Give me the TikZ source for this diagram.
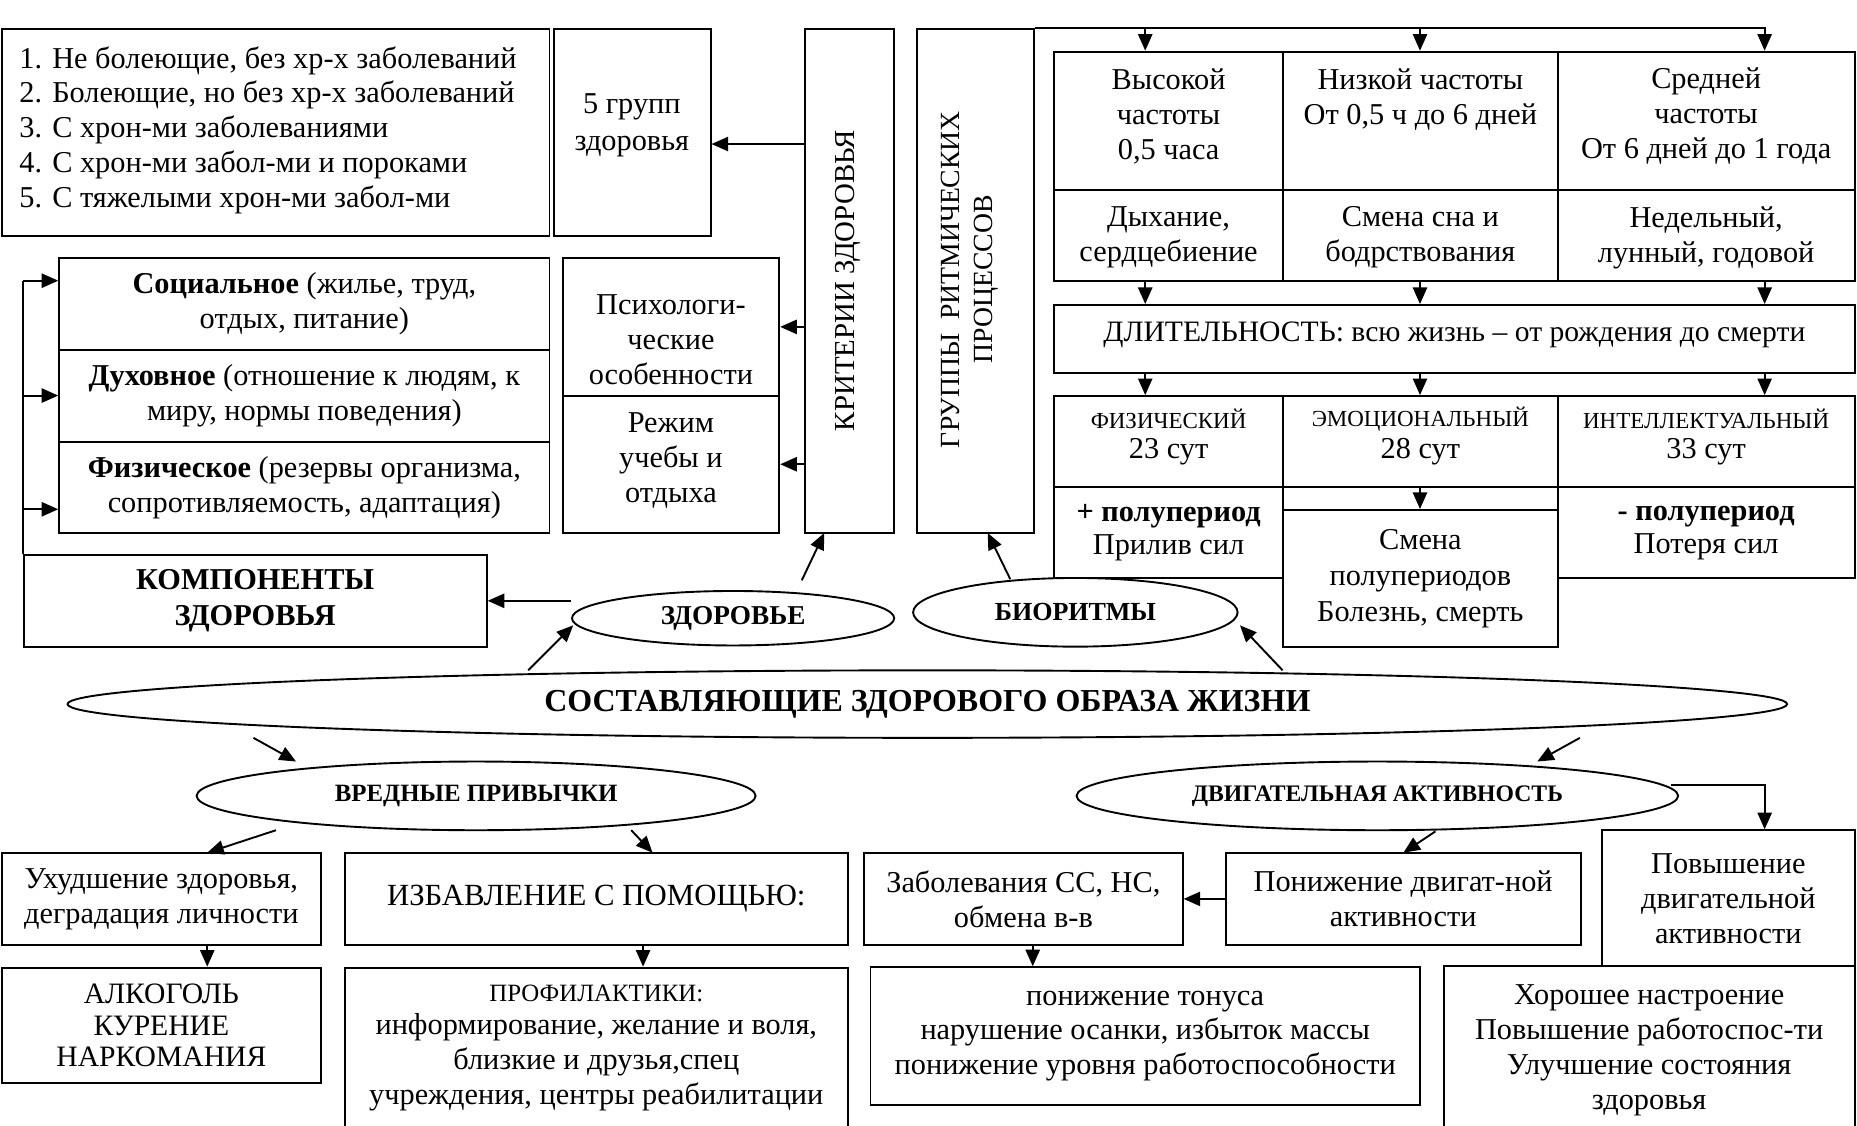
\documentclass[tikz,border=0pt]{standalone}
\usepackage{fontspec}
\setmainfont{Liberation Serif}
\usetikzlibrary{shapes.geometric,arrows.meta}
\newcommand\fm{\fontsize{12.8}{14.75}\selectfont}
\newcommand\fsm{\fontsize{9.7}{11}\selectfont}
\newcommand\BX[7][]{\node[box,minimum width={(#5-#3)*0.5pt},minimum height={(#6-#4)*0.5pt},#1] (#2) at ({(#3+#5)/2},{(#4+#6)/2}) {#7};}
\newcommand\EL[7][]{\node[ell,minimum width={#5*1pt},minimum height={#6*1pt},#1] (#2) at (#3,#4) {#7};}
\begin{document}
\begin{tikzpicture}[x=0.5pt,y=-0.5pt,
 box/.style={draw,line width=0.8pt,inner sep=0pt,align=center,font=\fm},
 txt/.style={inner sep=0pt,align=center,font=\fm},
 ell/.style={draw,ellipse,line width=0.8pt,inner sep=0pt,align=center},
 arr/.style={line width=0.8pt,-{Triangle[length=7pt,width=6pt]}},
 ln/.style={line width=0.8pt}]
\useasboundingbox (0,0) rectangle (1568,950);
\clip (0,0) rectangle (1568,950);

% column coordinates
\coordinate (ca) at (967,0);
\coordinate (cb) at (1199,0);
\coordinate (cc) at (1490,0);

% ---------- top left
\BX{lst}{1.5}{24.8}{464}{199}{}
\node[txt,align=left,anchor=west] (lstt) at (16,110) {1. Не болеющие, без хр-х заболеваний\\2. Болеющие, но без хр-х заболеваний\\3. С хрон-ми заболеваниями\\4. С хрон-ми забол-ми и пороками\\5. С тяжелыми хрон-ми забол-ми};
\BX{grp}{467.5}{24.8}{600}{199}{}
\node[txt,font=\fontsize{12.8}{15.5}\selectfont] (grpt) at (533.5,105.5) {5 групп\\здоровья};

\BX{krit}{680}{24.8}{755}{450}{}
\node[txt,rotate=90,font=\fontsize{12.2}{14}\selectfont] (kritt) at (716,237) {КРИТЕРИИ ЗДОРОВЬЯ};
\BX{grup}{774}{24.8}{873}{450}{}
\node[txt,rotate=90,font=\fontsize{11.7}{14}\selectfont] (grupt) at (819,236) {ГРУППЫ\ \ РИТМИЧЕСКИХ\\ПРОЦЕССОВ};

% ---------- frequency table
\BX{f11}{890}{43.6}{1083.4}{160.4}{}
\BX{f12}{1083.4}{43.6}{1315.2}{160.4}{}
\BX{f13}{1315.2}{43.6}{1566}{160.4}{}
\BX{f21}{890}{160.4}{1083.4}{237.3}{}
\BX{f22}{1083.4}{160.4}{1315.2}{237.3}{}
\BX{f23}{1315.2}{160.4}{1566}{237.3}{}
\node[txt] (f11t) at (986.7,98) {Высокой\\частоты\\0,5 часа};
\node[txt] (f12t) at (1199.3,83.7) {Низкой частоты\\От 0,5 ч до 6 дней};
\node[txt] (f13t) at (1440.6,98) {Средней\\частоты\\От 6 дней до 1 года};
\node[txt] (f21t) at (986.7,200.5) {Дыхание,\\сердцебиение};
\node[txt] (f22t) at (1199.3,200.5) {Смена сна и\\бодрствования};
\node[txt] (f23t) at (1440.6,200.5) {Недельный,\\лунный, годовой};

\draw[arr] (grup.north east) -- (cc |- grup.north) -- (cc |- f13.north);
\draw[arr] (ca |- grup.north) -- (ca |- f11.north);
\draw[arr] (cb |- grup.north) -- (cb |- f12.north);

\BX{dl}{890}{257.5}{1566}{314.6}{}
\node[txt,font=\fontsize{12.5}{14}\selectfont] (dlt) at (1228,283) {ДЛИТЕЛЬНОСТЬ: всю жизнь – от рождения до смерти};
\foreach \c/\t in {ca/f21,cb/f22,cc/f23} \draw[arr] (\c |- \t.south) -- (\c |- dl.north);

% ---------- biorhythm table
\BX{b11}{890}{334.4}{1083.4}{411.5}{}
\BX{b12}{1083.4}{334.4}{1315.2}{411.5}{}
\BX{b13}{1315.2}{334.4}{1566}{411.5}{}
\foreach \c/\t in {ca/b11,cb/b12,cc/b13} \draw[arr] (\c |- dl.south) -- (\c |- \t.north);
\node[txt,font=\fsm] (b11a) at (986.7,354) {ФИЗИЧЕСКИЙ};
\node[txt] (b11b) at (986.7,381.4) {23 сут};
\node[txt,font=\fsm] (b12a) at (1199.3,354) {ЭМОЦИОНАЛЬНЫЙ};
\node[txt] (b12b) at (1199.3,381.4) {28 сут};
\node[txt,font=\fsm] (b13a) at (1440.6,354) {ИНТЕЛЛЕКТУАЛЬНЫЙ};
\node[txt] (b13b) at (1440.6,381.4) {33 сут};
\BX[font=\fontsize{12.8}{14}\selectfont]{b21}{890}{411.5}{1083.4}{488.3}{\textbf{+ полупериод}\\Прилив сил}
\BX[font=\fontsize{12.8}{14}\selectfont]{b23}{1315.2}{411.5}{1566}{488.3}{\textbf{- полупериод}\\Потеря сил}
\BX[font=\fontsize{12.8}{15.2}\selectfont]{sm}{1083.4}{430.6}{1315.2}{546}{Смена\\полупериодов\\Болезнь, смерть}
\draw[arr] (cb |- b12.south) -- (cb |- sm.north);

% ---------- components
\BX{c1}{50}{218}{464}{295.5}{\textbf{Социальное} (жилье, труд,\\отдых, питание)}
\BX{c2}{50}{295.5}{464}{373}{\textbf{Духовное} (отношение к людям, к\\миру, нормы поведения)}
\BX{c3}{50}{373}{464}{450}{\textbf{Физическое} (резервы организма,\\сопротивляемость, адаптация)}
\BX{p1}{475}{218}{658}{334}{}
\BX{p2}{475}{334}{658}{450}{}
\node[txt] (p1t) at (566.5,287) {Психологи-\\ческие\\особенности};
\node[txt] (p2t) at (566.5,389) {Режим\\учебы и\\отдыха};
\BX[font=\fontsize{12.8}{15}\selectfont\bfseries]{komp}{20}{468.6}{411}{546}{КОМПОНЕНТЫ\\ЗДОРОВЬЯ}

\coordinate (l1) at (0,237);
\coordinate (l2) at (0,334);
\coordinate (l3) at (0,430);
\draw[ln] (komp.north west) -- (komp.west |- l1);
\foreach \l/\t in {l1/c1,l2/c2,l3/c3} \draw[arr] (komp.west |- \l) -- (\t.west |- \l);

\coordinate (k1) at (0,121.6);
\draw[arr] (krit.west |- k1) -- (grp.east |- k1);
\draw[arr] (krit.west |- p1.east) -- (p1.east);
\draw[arr] (krit.west |- p2.east) -- (p2.east);

% ---------- ellipses
\EL{zd}{619}{522}{136}{23}{\fontsize{11.5}{13}\selectfont\bfseries ЗДОРОВЬЕ}
\EL{bio}{908}{517}{137}{29}{\fontsize{11}{13}\selectfont\bfseries БИОРИТМЫ}
\EL{sost}{783}{594.5}{726}{28.5}{\fontsize{13.5}{15}\selectfont\bfseries СОСТАВЛЯЮЩИЕ ЗДОРОВОГО ОБРАЗА ЖИЗНИ}
\EL{vred}{402}{672}{236}{29}{\fontsize{10.5}{12}\selectfont\bfseries ВРЕДНЫЕ ПРИВЫЧКИ}
\EL{dvig}{1163}{672}{254}{29}{\fontsize{10}{12}\selectfont\bfseries ДВИГАТЕЛЬНАЯ АКТИВНОСТЬ}

\draw[arr] (zd.west |- komp.east) -- (komp.east);
\coordinate (zkS) at (677,490); \coordinate (zkE) at (696,450);
\draw[arr] (zkS) -- (zkE);
\coordinate (bgS) at (853,489); \coordinate (bgE) at (834,450);
\draw[arr] (bgS) -- (bgE);
\coordinate (szS) at (446,566); \coordinate (szE) at (484,528);
\draw[arr] (szS) -- (szE);
\coordinate (sbS) at (1083,566); \coordinate (sbE) at (1047,528);
\draw[arr] (sbS) -- (sbE);
\coordinate (svS) at (214,623); \coordinate (svE) at (250,643);
\draw[arr] (svS) -- (svE);
\coordinate (sdS) at (1334,623); \coordinate (sdE) at (1298,643);
\draw[arr] (sdS) -- (sdE);

% ---------- bottom boxes
\BX{uh}{1.5}{720}{271}{798}{Ухудшение здоровья,\\деградация личности}
\BX[font=\fontsize{13}{15}\selectfont]{izb}{291}{720}{716}{798}{ИЗБАВЛЕНИЕ С ПОМОЩЬЮ:}
\BX[font=\fontsize{12.5}{13.3}\selectfont]{alk}{1.5}{817}{271}{914.5}{АЛКОГОЛЬ\\КУРЕНИЕ\\НАРКОМАНИЯ}
\BX{prof}{291}{817}{716}{960}{}
\node[txt,font=\fontsize{10.5}{12}\selectfont] (proft) at (503.5,838.6) {ПРОФИЛАКТИКИ:};
\node[txt] (profb) at (503.5,897) {информирование, желание и воля,\\близкие и друзья,спец\\учреждения, центры реабилитации};
\BX{zab}{729.6}{720}{998.6}{798}{Заболевания СС, НС,\\обмена в-в}
\BX{pon}{1035}{720}{1334.6}{798}{Понижение двигат-ной\\активности}
\BX{pov}{1352.7}{701}{1566}{816}{Повышение\\двигательной\\активности}
\BX{ton}{735}{816.7}{1199}{933}{понижение тонуса\\нарушение осанки, избыток массы\\понижение уровня работоспособности}
\BX{hor}{1219}{816}{1566}{960}{}
\node[txt] (hort) at (1392.5,887) {Хорошее настроение\\Повышение работоспос-ти\\Улучшение состояния\\здоровья};

\coordinate (vuS) at (233,701); \coordinate (vuE) at (175,720);
\draw[arr] (vuS) -- (vuE);
\coordinate (viS) at (533,701); \coordinate (viE) at (551,720);
\draw[arr] (viS) -- (viE);
\coordinate (dpS) at (1212,702); \coordinate (dpE) at (1185,720);
\draw[arr] (dpS) -- (dpE);
\coordinate (dvS) at (1411,663);
\draw[arr] (dvS) -- (cc |- dvS) -- (cc |- pov.north);

\coordinate (x1) at (175,0);
\coordinate (x2) at (543,0);
\coordinate (x3) at (872,0);
\draw[arr] (x1 |- uh.south) -- (x1 |- alk.north);
\draw[arr] (x2 |- izb.south) -- (x2 |- prof.north);
\draw[arr] (x3 |- zab.south) -- (x3 |- ton.north);
\draw[arr] (pon.west) -- (zab.east);
\end{tikzpicture}
\end{document}
